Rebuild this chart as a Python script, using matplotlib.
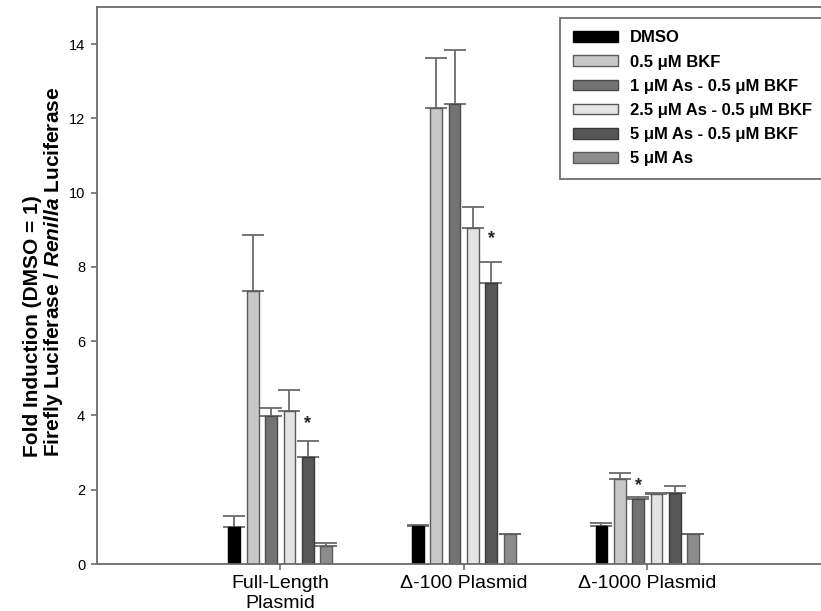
import numpy as np
import matplotlib
matplotlib.use("Agg")
import matplotlib.pyplot as plt

plt.rcParams['font.family'] = ['Liberation Sans', 'DejaVu Sans']
plt.rcParams['mathtext.fontset'] = 'custom'
plt.rcParams['mathtext.rm'] = 'Liberation Sans:bold'
plt.rcParams['mathtext.bf'] = 'Liberation Sans:bold'
plt.rcParams['mathtext.it'] = 'Liberation Sans:italic:bold'

# data
groups = ["Full-Length\nPlasmid", "Δ-100 Plasmid", "Δ-1000 Plasmid"]
treatments = ["DMSO", "0.5 μM BKF", "1 μM As - 0.5 μM BKF",
              "2.5 μM As - 0.5 μM BKF", "5 μM As - 0.5 μM BKF", "5 μM As"]

dmso = [1.00, 1.02, 1.02]
bkf = [7.35, 12.27, 2.30]
as1_bkf = [3.98, 12.40, 1.74]
as25_bkf = [4.12, 9.05, 1.89]
as5_bkf = [2.89, 7.57, 1.92]
as5 = [0.48, 0.80, 0.80]

dmso_err = [0.28, 0.02, 0.08]
bkf_err = [1.52, 1.35, 0.15]
as1_bkf_err = [0.21, 1.45, 0.07]
as25_bkf_err = [0.56, 0.57, 0.03]
as5_bkf_err = [0.43, 0.57, 0.18]
as5_err = [0.08, 0.02, 0.02]

# significance marks: (group index, treatment index, height)
sig_group = [0, 1, 2]
sig_treat = [4, 4, 2]
sig_y = [3.78, 8.76, 2.10]

means = [dmso, bkf, as1_bkf, as25_bkf, as5_bkf, as5]
errs = [dmso_err, bkf_err, as1_bkf_err, as25_bkf_err, as5_bkf_err, as5_err]
colors = ['#000000', '#c8c8c8', '#737373', '#e4e4e4', '#575757', '#8c8c8c']
edges = ['#000000', '#5a5a5a', '#4a4a4a', '#5a5a5a', '#3a3a3a', '#5a5a5a']

fig = plt.figure(figsize=(8.21, 6.11), dpi=100)
ax = fig.add_axes([0.1178, 0.0769, 0.8942, 0.9116])

x = np.arange(1, len(groups) + 1)
step = 0.1
width = 0.064
for i, (m, e) in enumerate(zip(means, errs)):
    xi = x + (i - 2.5) * step
    ax.bar(xi, m, width, color=colors[i], edgecolor=edges[i], linewidth=1.0,
           label=treatments[i], zorder=2)
    ax.errorbar(xi, m, yerr=[np.zeros(len(m)), e], fmt='none', ecolor='#6a6a6a',
                elinewidth=1.3, capsize=8, capthick=1.3, zorder=1)

for g, t, h in zip(sig_group, sig_treat, sig_y):
    ax.text(x[g] + (t - 2.5) * step, h, "*", ha='center', va='center',
            fontsize=13, fontweight='bold', color='#222222')

ax.set_xlim(0, 4)
ax.set_ylim(0, 15)
ax.set_yticks(np.arange(0, 15, 2))
ax.set_xticks(x)
ax.set_xticklabels(groups, fontsize=14)
ax.tick_params(axis='y', direction='out', length=4.3, width=1.1, color='#606060',
               labelsize=10.5, pad=4)
ax.tick_params(axis='x', direction='out', length=4, width=1.1, color='#606060', pad=4)
for s in ['left', 'bottom', 'top', 'right']:
    ax.spines[s].set_color('#6a6a6a')
    ax.spines[s].set_linewidth(1.3)

fig.text(0.054, 0.555,
         "Fold Induction (DMSO = 1)\nFirefly Luciferase / $\\mathit{Renilla}$ Luciferase",
         rotation=90, ha='center', va='center', multialignment='left',
         fontsize=15, fontweight='bold', linespacing=1.0)

leg = ax.legend(loc='upper left', bbox_to_anchor=(560 / 821, 1 - 18 / 611),
                bbox_transform=fig.transFigure, borderaxespad=0, fancybox=False,
                framealpha=1, edgecolor='#707070', prop={'weight': 'bold', 'size': 12},
                handlelength=2.7, handleheight=0.6, handletextpad=0.75,
                labelspacing=0.55, borderpad=0.75)
leg.get_frame().set_linewidth(1.3)

fig.savefig("out.png", dpi=100)
